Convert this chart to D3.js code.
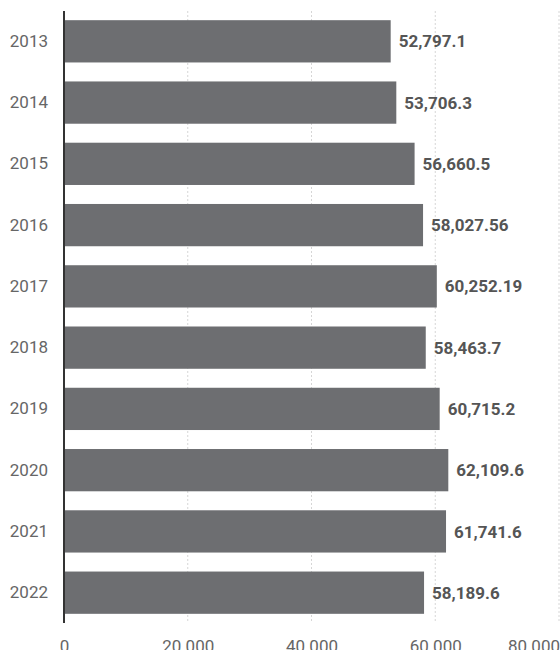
<!DOCTYPE html>
<html>
<head>
<meta charset="utf-8">
<script src="https://cdn.jsdelivr.net/npm/d3@7"></script>
<style>
  html, body { margin: 0; padding: 0; background: #fff; overflow: hidden; }
  svg { display: block; font-family: Roboto, "Noto Sans", sans-serif; }
</style>
</head>
<body>
<svg id="chart" width="560" height="650"></svg>
<script>
// Yearly values, one bar per year
const years = ["2013", "2014", "2015", "2016", "2017", "2018", "2019", "2020", "2021", "2022"];
const values = [52797.1, 53706.3, 56660.5, 58027.56, 60252.19, 58463.7, 60715.2, 62109.6, 61741.6, 58189.6];
const valueLabels = ["52,797.1", "53,706.3", "56,660.5", "58,027.56", "60,252.19", "58,463.7", "60,715.2", "62,109.6", "61,741.6", "58,189.6"];
const xTicks = [0, 20000, 40000, 60000, 80000];
const xTickLabels = ["0", "20 000", "40 000", "60 000", "80 000"];

const W = 560;
const svg = d3.select("#chart");
const plot = { left: 64, right: 559, top: 11, bottom: 623 };

const x = d3.scaleLinear().domain([0, 80000]).range([plot.left, plot.right]);
const y = d3.scaleBand().domain(years).range([plot.top, plot.bottom])
  .paddingInner(0.31).paddingOuter(0.15);

// dotted vertical gridlines
svg.append("g").selectAll("line")
  .data(xTicks.filter(t => t > 0))
  .join("line")
  .attr("x1", d => x(d)).attr("x2", d => x(d))
  .attr("y1", plot.top).attr("y2", plot.bottom)
  .attr("stroke", "#d6d6d6")
  .attr("stroke-width", 1)
  .attr("stroke-dasharray", "2,2");

// bars
svg.append("g").selectAll("rect")
  .data(years)
  .join("rect")
  .attr("x", x(0))
  .attr("y", d => y(d))
  .attr("width", (d, i) => x(values[i]) - x(0))
  .attr("height", y.bandwidth())
  .attr("fill", "#6d6e71");

// value labels at bar ends
svg.append("g").selectAll("text")
  .data(years)
  .join("text")
  .attr("x", (d, i) => x(values[i]) + 8)
  .attr("y", d => y(d) + y.bandwidth() / 2)
  .attr("dy", "0.36em")
  .attr("font-size", 17)
  .attr("font-weight", 700)
  .attr("fill", "#555")
  .text((d, i) => valueLabels[i]);

// category axis
const yAxis = svg.append("g")
  .attr("transform", `translate(${plot.left},0)`)
  .call(d3.axisLeft(y).tickSize(0).tickPadding(16));
yAxis.select(".domain").remove();
yAxis.selectAll("text")
  .attr("font-size", 17)
  .attr("font-family", "Roboto, sans-serif")
  .attr("fill", "#666");

svg.append("line")
  .attr("x1", plot.left).attr("x2", plot.left)
  .attr("y1", plot.top).attr("y2", plot.bottom)
  .attr("stroke", "#333")
  .attr("stroke-width", 2);

// value axis at the bottom
const xAxis = svg.append("g")
  .attr("transform", `translate(0,${plot.bottom})`)
  .call(d3.axisBottom(x).tickValues(xTicks).tickSize(0).tickPadding(17)
    .tickFormat((d, i) => xTickLabels[i]));
xAxis.select(".domain").remove();
xAxis.selectAll("text")
  .attr("font-size", 17)
  .attr("font-family", "Roboto, sans-serif")
  .attr("fill", "#666");

// keep the last tick label inside the right edge
xAxis.selectAll(".tick text").each(function () {
  const tick = this.parentNode;
  const tx = +tick.getAttribute("transform").match(/translate\(([-\d.]+)/)[1];
  const w = this.getComputedTextLength();
  if (tx + w / 2 > W) {
    d3.select(this).attr("text-anchor", "end").attr("x", W - tx);
  }
});
</script>
</body>
</html>
